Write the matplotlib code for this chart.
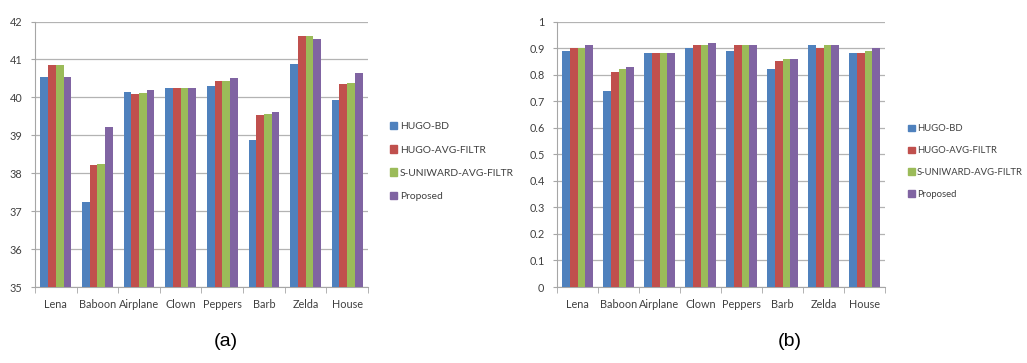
import matplotlib
matplotlib.use("Agg")
import matplotlib.pyplot as plt
import numpy as np
from matplotlib.patches import Rectangle

categories = ["Lena", "Baboon", "Airplane", "Clown", "Peppers", "Barb", "Zelda", "House"]
series_names = ["HUGO-BD", "HUGO-AVG-FILTR", "S-UNIWARD-AVG-FILTR", "Proposed"]

psnr_hugo_bd = [40.53, 37.24, 40.13, 40.24, 40.31, 38.87, 40.88, 39.92]
psnr_hugo_avg = [40.84, 38.21, 40.09, 40.24, 40.42, 39.54, 41.61, 40.36]
psnr_suni_avg = [40.85, 38.23, 40.11, 40.24, 40.44, 39.55, 41.61, 40.38]
psnr_proposed = [40.53, 39.23, 40.20, 40.24, 40.51, 39.62, 41.53, 40.63]

ssim_hugo_bd = [0.89, 0.74, 0.88, 0.90, 0.89, 0.82, 0.91, 0.88]
ssim_hugo_avg = [0.90, 0.81, 0.88, 0.91, 0.91, 0.85, 0.90, 0.88]
ssim_suni_avg = [0.90, 0.82, 0.88, 0.91, 0.91, 0.86, 0.91, 0.89]
ssim_proposed = [0.91, 0.83, 0.88, 0.92, 0.91, 0.86, 0.91, 0.90]

colors = ["#4F81BD", "#C0504D", "#9BBB59", "#8064A2"]
plt.rcParams['font.family'] = ['Lato', 'DejaVu Sans']

W, H = 1027, 363
fig = plt.figure(figsize=(W / 100, H / 100), dpi=100)

grid_c = "#B3B3B3"
axis_c = "#A6A6A6"
text_c = "#404040"


def make_chart(left_px, right_px, data, ylim, yticks, yfmt, legend_x_px, legend_fs):
    ax = fig.add_axes([left_px / W, 1 - 287 / H, (right_px - left_px) / W, (287 - 21.5) / H])
    n = len(categories)
    x = np.arange(n)
    group = 0.74
    bw = group / len(data)
    for i, vals in enumerate(data):
        ax.bar(x - group / 2 + bw * (i + 0.5), np.array(vals) - ylim[0], bottom=ylim[0],
               width=bw, color=colors[i], edgecolor="none", zorder=3)
    ax.set_xlim(-0.5, n - 0.5)
    ax.set_ylim(*ylim)
    ax.set_yticks(yticks)
    ax.set_yticklabels([yfmt(v) for v in yticks])
    ax.yaxis.grid(True, color=grid_c, linewidth=0.9, zorder=0)
    ax.set_axisbelow(True)
    for s in ["top", "right"]:
        ax.spines[s].set_visible(False)
    ax.spines["left"].set_color(axis_c)
    ax.spines["bottom"].set_color(axis_c)
    ax.set_xticks(x)
    ax.set_xticklabels(categories)
    ax.tick_params(axis="x", length=0, pad=9, labelsize=7.8, labelcolor=text_c)
    ax.set_xticks(np.arange(-0.5, n, 1.0), minor=True)
    ax.tick_params(axis="x", which="minor", length=4, color=axis_c, direction="out")
    ax.tick_params(axis="y", length=3, color=axis_c, pad=6, labelsize=7.8, labelcolor=text_c)
    handles = [Rectangle((0, 0), 1, 1, color=c) for c in colors]
    leg = fig.legend(handles, series_names, loc="center left",
                     bbox_to_anchor=(legend_x_px / W, 1 - 161.5 / H),
                     frameon=False, fontsize=legend_fs, handlelength=0.7, handleheight=0.7,
                     handletextpad=0.25, labelspacing=1.35, borderpad=0, borderaxespad=0)
    for t in leg.get_texts():
        t.set_color(text_c)
    return ax


make_chart(35, 368, [psnr_hugo_bd, psnr_hugo_avg, psnr_suni_avg, psnr_proposed],
           (35, 42), list(range(35, 43)), lambda v: f"{v:d}", 390, 7.4)
make_chart(557, 885, [ssim_hugo_bd, ssim_hugo_avg, ssim_suni_avg, ssim_proposed],
           (0, 1), [round(0.1 * k, 1) for k in range(11)],
           lambda v: "0" if v == 0 else ("1" if v == 1 else f"{v:.1f}"), 908, 6.8)

fig.text(226 / W, 1 - 342 / H, "(a)", ha="center", va="center", fontsize=14,
         family=["Liberation Sans", "DejaVu Sans"])
fig.text(790 / W, 1 - 342 / H, "(b)", ha="center", va="center", fontsize=14,
         family=["Liberation Sans", "DejaVu Sans"])

fig.savefig("out.png", dpi=100)
